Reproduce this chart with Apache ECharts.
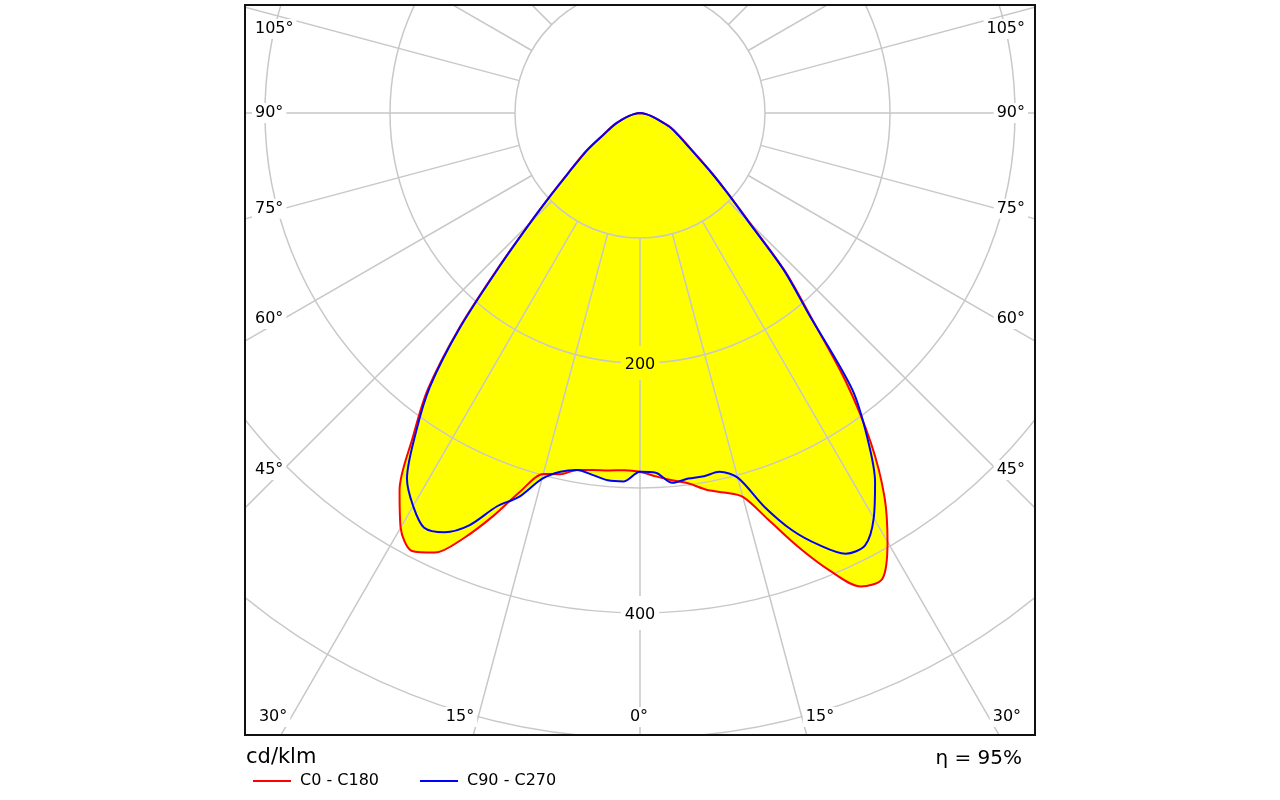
<!DOCTYPE html>
<html>
<head>
<meta charset="utf-8">
<script src="https://cdn.jsdelivr.net/npm/echarts@6/dist/echarts.min.js"></script>
<style>
html, body { margin: 0; padding: 0; background: #fff; }
#main { width: 1280px; height: 800px; }
</style>
</head>
<body>
<div id="main"></div>
<script>
// gamma angles (deg from nadir) and intensities in cd/klm
let gammaAngles = [0, 2.5, 5, 7.5, 10, 12.5, 15, 17.5, 20, 22.5, 25, 27.5, 30, 32.5, 35, 37.5, 40, 42.5, 45, 47.5, 50, 55, 60, 65, 70, 75, 80, 85, 90];
let c0Values   = [287, 291, 295, 299, 306, 311, 318, 341, 369, 396, 418, 420, 396, 364, 322, 270, 212, 172, 124, 96, 76, 49, 36, 27, 15, 9, 5, 2, 0];
let c180Values = [287, 286, 287, 288, 290, 296, 299, 317, 343, 368, 388, 395, 383, 358, 317, 279, 226, 168, 125, 96, 76, 52, 33, 24, 15, 9, 5, 2, 0];
let c90Values  = [287, 288, 297, 295, 295, 294, 302, 330, 355, 374, 389, 390, 374, 350, 317, 279, 210, 170, 122, 95, 75, 48, 35, 26, 15, 9, 5, 2, 0];
let c270Values = [287, 295, 295, 292, 290, 294, 303, 322, 335, 357, 370, 374, 363, 347, 313, 276, 224, 166, 124, 95, 75, 51, 32, 23, 15, 9, 5, 2, 0];

let sideTickAngles = [105, 90, 75, 60, 45];
let bottomTickAngles = [30, 15, 0];
let radiusLabels = [200, 400];
let seriesNames = ["C0 - C180", "C90 - C270"];

let chart = echarts.init(document.getElementById("main"));
let font = '"DejaVu Sans", Verdana, sans-serif';
let cx = 640, cy = 113;

// left half goes to negative angles, right half to positive
function curve(left, right) {
    let pts = [];
    for (let i = gammaAngles.length - 1; i >= 0; i--) pts.push([left[i], -gammaAngles[i]]);
    for (let i = 1; i < gammaAngles.length; i++) pts.push([right[i], gammaAngles[i]]);
    return pts;
}

function tickText(text, x, y, align) {
    return {
        type: "text", x: x, y: y, z: 105, silent: true,
        style: {
            text: text, fill: "#000", font: "16px " + font,
            align: align, verticalAlign: "middle",
            backgroundColor: "#fff", padding: [2, 3]
        }
    };
}

let labels = [];
sideTickAngles.forEach(function (a) {
    let t = a * Math.PI / 180;
    let y = Math.max(29, cy + 357 * Math.cos(t) / Math.sin(t));
    labels.push(tickText(a + "°", 252, y, "left"));
    labels.push(tickText(a + "°", 1028, y, "right"));
});
bottomTickAngles.forEach(function (a) {
    let dx = 604 * Math.tan(a * Math.PI / 180);
    if (a === 0) {
        labels.push(tickText("0°", cx - 1, 717, "center"));
    } else {
        labels.push(tickText(a + "°", cx - dx - 1, 717, "right"));
        labels.push(tickText(a + "°", cx + dx + 1, 717, "left"));
    }
});

let gridColor = "#c8c8c8";

function fillSeries(data) {
    return {
        type: "line", coordinateSystem: "polar", polarIndex: 1,
        data: data, symbol: "none", smooth: 0.3, silent: true, z: 1,
        lineStyle: { width: 0, opacity: 0 },
        areaStyle: { color: "#ffff00", opacity: 1 }
    };
}

function lineSeries(name, data, color) {
    return {
        name: name, type: "line", coordinateSystem: "polar", polarIndex: 1,
        data: data, symbol: "none", smooth: 0.3, z: 4, color: color,
        lineStyle: { color: color, width: 2 }
    };
}

let redCurve = curve(c180Values, c0Values);
let blueCurve = curve(c270Values, c90Values);

let option = {
    animation: false,
    polar: [
        { center: [cx, cy], radius: [125, 750] },
        { center: [cx, cy], radius: [0, 750] }
    ],
    angleAxis: [
        {
            polarIndex: 0, type: "value", min: 0, max: 360, interval: 15,
            startAngle: 270, clockwise: false, z: 2,
            axisLine: { show: false }, axisTick: { show: false }, axisLabel: { show: false },
            splitLine: { show: true, lineStyle: { color: gridColor, width: 1.5 } }
        },
        {
            polarIndex: 1, type: "value", min: -180, max: 180,
            startAngle: 90, clockwise: false, show: false
        }
    ],
    radiusAxis: [
        {
            polarIndex: 0, type: "value", min: 100, max: 600, interval: 100, z: 3,
            axisLine: { show: false }, axisTick: { show: false },
            splitLine: { show: true, lineStyle: { color: gridColor, width: 1.5 } },
            axisLabel: {
                margin: 0, align: "center", verticalAlign: "middle",
                formatter: function (v) {
                    if (radiusLabels.indexOf(v) < 0) return "";
                    return v < 300 ? "{y|" + v + "}" : "{w|" + v + "}";
                },
                rich: {
                    y: { backgroundColor: "#ffff00", padding: [11, 4, 7, 4], fontSize: 16, fontFamily: font, color: "#000" },
                    w: { backgroundColor: "#fff", padding: [11, 4, 7, 4], fontSize: 16, fontFamily: font, color: "#000" }
                }
            }
        },
        { polarIndex: 1, type: "value", min: 0, max: 600, show: false }
    ],
    legend: {
        data: seriesNames,
        left: 253, top: 773, z: 110, padding: 0,
        icon: "rect", itemWidth: 38, itemHeight: 2, itemGap: 41,
        textStyle: { fontFamily: font, fontSize: 16, color: "#000", padding: [0, 0, 0, 4] }
    },
    series: [
        fillSeries(redCurve),
        fillSeries(blueCurve),
        lineSeries(seriesNames[0], redCurve, "#ff0000"),
        lineSeries(seriesNames[1], blueCurve, "#0000ff")
    ],
    graphic: {
        elements: [
            { type: "rect", z: 100, silent: true, shape: { x: 0, y: 0, width: 245, height: 800 }, style: { fill: "#fff" } },
            { type: "rect", z: 100, silent: true, shape: { x: 1035, y: 0, width: 245, height: 800 }, style: { fill: "#fff" } },
            { type: "rect", z: 100, silent: true, shape: { x: 0, y: 0, width: 1280, height: 5 }, style: { fill: "#fff" } },
            { type: "rect", z: 100, silent: true, shape: { x: 0, y: 735, width: 1280, height: 65 }, style: { fill: "#fff" } },
            { type: "rect", z: 106, silent: true, shape: { x: 245, y: 5, width: 790, height: 730 }, style: { fill: null, stroke: "#111", lineWidth: 2 } },
            { type: "text", z: 106, x: 246, y: 758, style: { text: "cd/klm", fill: "#000", font: "21px " + font, verticalAlign: "middle" } },
            { type: "text", z: 106, x: 1022, y: 759, style: { text: "η = 95%", fill: "#000", font: "20px " + font, align: "right", verticalAlign: "middle" } }
        ].concat(labels)
    }
};

chart.setOption(option);
</script>
</body>
</html>
